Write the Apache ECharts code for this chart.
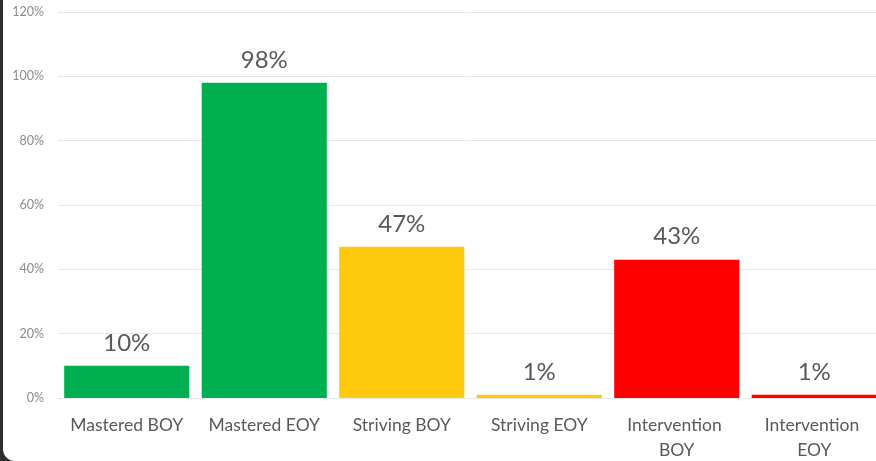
<!DOCTYPE html>
<html>
<head>
<meta charset="utf-8">
<script src="https://cdn.jsdelivr.net/npm/echarts@6/dist/echarts.min.js"></script>
<style>
  html, body { margin: 0; padding: 0; }
  .frame { position: relative; width: 876px; height: 461px; background: #2e2e2e; overflow: hidden; }
  .panel { position: absolute; left: 3px; top: 0; width: 873px; height: 461px; background: #fff;
           border-bottom-left-radius: 12px; overflow: hidden; }
  #chart { position: absolute; left: -3px; top: 0; width: 886px; height: 461px; }
</style>
</head>
<body>
<div class="frame"><div class="panel"><div id="chart"></div></div></div>
<script>
const categories = ["Mastered BOY", "Mastered EOY", "Striving BOY", "Striving EOY", "Intervention BOY", "Intervention EOY"];
const values = [10, 98, 47, 1, 43, 1];
const barColors = ["#00B050", "#00B050", "#FFC90E", "#FFC90E", "#FF0000", "#FF0000"];

const chart = echarts.init(document.getElementById("chart"));

const option = {
  animation: false,
  grid: {
    left: 58,
    right: 3,
    top: 12,
    bottom: 63,
    containLabel: false,
    outerBoundsMode: "none"
  },
  xAxis: {
    type: "category",
    data: categories,
    axisLine: { show: false },
    axisTick: { show: false },
    axisLabel: {
      color: "#595959",
      fontSize: 17.5,
      fontFamily: "Lato",
      margin: 15,
      lineHeight: 25,
      interval: 0,
      width: 124,
      overflow: "break"
    }
  },
  yAxis: {
    type: "value",
    min: 0,
    max: 120,
    interval: 20,
    axisLine: { show: false },
    axisTick: { show: false },
    axisLabel: {
      color: "#8c8c8c",
      fontSize: 12.5,
      fontFamily: "Lato",
      margin: 14,
      formatter: "{value}%"
    },
    splitLine: { lineStyle: { color: "#e8e8e8", width: 1 } }
  },
  series: [
    {
      type: "bar",
      data: values.map((v, i) => ({ value: v, itemStyle: { color: barColors[i] } })),
      barCategoryGap: "9%",
      label: {
        show: true,
        position: "top",
        distance: 11,
        color: "#595959",
        fontSize: 24,
        fontFamily: "Lato",
        formatter: "{c}%"
      }
    }
  ]
};

chart.setOption(option);
</script>
</body>
</html>
